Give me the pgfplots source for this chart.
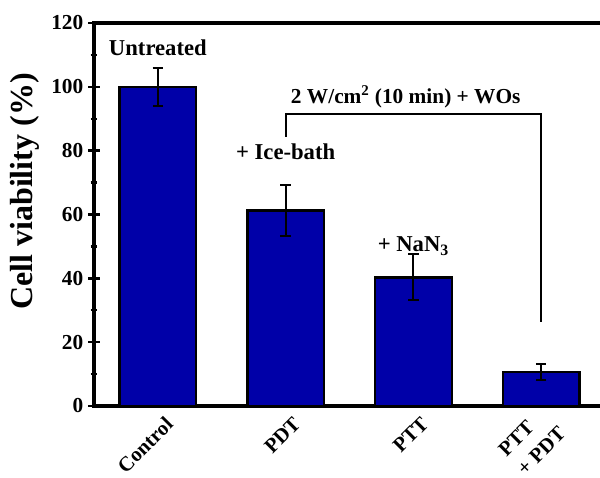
\documentclass[border=0pt]{standalone}
\usepackage{pgfplots}
\pgfplotsset{compat=1.18}
\usepackage{fontspec}
\setmainfont{Liberation Serif}
\definecolor{barblue}{RGB}{0,0,168}
\begin{document}
\begin{tikzpicture}
\begin{axis}[
  scale only axis,
  width=383.25pt, height=287.25pt,
  xmin=-0.5, xmax=3.5, ymin=0, ymax=120,
  axis line style={line width=2.4pt},
  xtick=data,
  xticklabels={Control, PDT, PTT, {PTT\\+ PDT}},
  xtick style={draw=none},
  xticklabel style={font=\fontsize{15.5}{20}\selectfont\bfseries, align=left, xshift=11pt, yshift=-4pt, rotate=45, anchor=east},
  ytick={0,20,40,60,80,100,120},
  minor y tick num=1,
  tick align=center,
  major tick length=9pt,
  minor tick length=5pt,
  y tick style={line width=1.8pt, black},
  ytick pos=left,
  xtick pos=bottom,
  /pgf/number format/assume math mode=true,
  yticklabel style={font=\fontsize{16}{19}\selectfont\bfseries},
  ylabel={Cell viability (\%)},
  ylabel style={font=\fontsize{24}{28}\selectfont\bfseries, at={(axis description cs:-0.135,0.56)}, anchor=center},
  clip=false,
]
\coordinate (bl) at (rel axis cs:0,0);
\coordinate (tr) at (rel axis cs:1,1);
\addplot[ybar, bar width=0.6, fill=barblue, draw=black, line width=1.8pt,
  error bars/.cd, y dir=both, y explicit,
  error bar style={line width=1.5pt, black},
  error mark options={rotate=90, mark size=4pt, line width=1.5pt, black}]
  coordinates {(0,100) +- (0,6) (1,61.2) +- (0,8) (2,40.3) +- (0,7.2) (3,10.6) +- (0,2.5)};
\addplot[black, line width=1.5pt, mark=none, sharp plot] coordinates {(1,84.3) (1,91.5) (3,91.5) (3,26.3)};
\node[font=\fontsize{17}{20}\selectfont\bfseries] at (axis cs:0,112.2) {Untreated};
\node[font=\fontsize{17}{20}\selectfont\bfseries] at (axis cs:1,79.6) {+ Ice-bath};
\node[font=\fontsize{17}{20}\selectfont\bfseries] at (axis cs:2,50.1) {+ NaN\textsubscript{3}};
\node[font=\fontsize{16}{19}\selectfont\bfseries] at (axis cs:1.94,96.8) {2 W/cm\textsuperscript{2} (10 min) + WOs};
\end{axis}
\pgfresetboundingbox
\path[use as bounding box] ([xshift=-70.5pt, yshift=-53.25pt]bl) rectangle ([xshift=-3.75pt, yshift=17.25pt]tr);
\end{tikzpicture}
\end{document}
